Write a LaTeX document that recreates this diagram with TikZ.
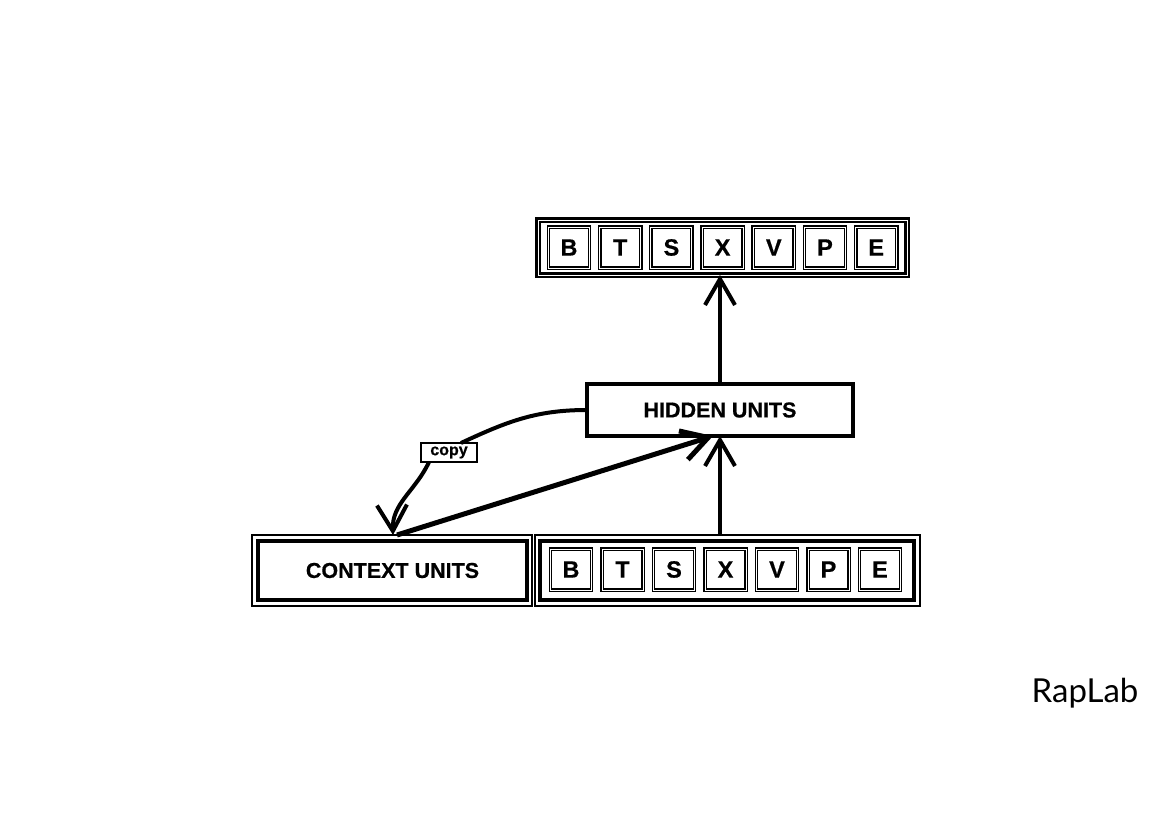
\documentclass[tikz,border=0pt]{standalone}
\usepackage{fontspec}
\setmainfont{Liberation Sans}[BoldFeatures={FakeBold=0.6}]
\newfontfamily\handfont{Lato}
\usetikzlibrary{arrows.meta}
\begin{document}
\begin{tikzpicture}[x=1pt,y=-1pt,
  every node/.style={inner sep=0pt, outer sep=0pt},
  cell/.style={draw, double, line width=1.5pt, double distance=0.9pt, minimum width=41pt, minimum height=41pt, font=\fontsize{23.5}{23.5}\selectfont\bfseries},
  frame/.style={draw, double, line width=2.7pt, double distance=1pt},
  thinframe/.style={draw, line width=2pt},
  boldbox/.style={draw, line width=3.5pt, font=\fontsize{21.5}{21.5}\selectfont\bfseries},
  conn/.style={line width=4pt, -{Straight Barb[length=26pt,width=30pt]}},
  plainline/.style={line width=4pt}
]
\fill[white] (0,0) rectangle (1170,827);
\useasboundingbox (0,0) rectangle (1170,827);

% output layer
\node[frame, minimum width=369pt, minimum height=55pt] (outframe) at (722.5,247.5) {};
\foreach \l [count=\i from 0] in {B,T,S,X,V,P,E} {
  \node[cell] (o\l) at (569+51.2*\i, 247.5) {\l};
}

% hidden layer
\node[boldbox, line width=4pt, minimum width=266pt, minimum height=52pt] (hidden) at (720,410) {HIDDEN UNITS};

% context units
\node[thinframe, minimum width=280pt, minimum height=71pt] (ctxouter) at (392,570.5) {};
\node[boldbox, minimum width=269pt, minimum height=59pt] (ctx) at (392.5,570.5) {CONTEXT UNITS};

% input layer
\node[thinframe, minimum width=385pt, minimum height=71pt] (inouter) at (727.5,570.5) {};
\node[draw, line width=3.5pt, minimum width=374pt, minimum height=59pt] (inframe) at (727,570.5) {};
\foreach \l [count=\i from 0] in {B,T,S,X,V,P,E} {
  \node[cell] (i\l) at (571+51.5*\i, 569.5) {\l};
}

% copy label
\node[draw, line width=2.5pt, minimum width=56pt, minimum height=19pt, font=\fontsize{16}{16}\selectfont\bfseries] (copy) at (449,452.5) {copy};

% connectors
\draw[conn] (hidden.north) -- (hidden.north |- outframe.south);
\draw[conn] (inouter.north -| hidden.south) -- (hidden.south);
\draw[conn, line width=5pt] ([xshift=5pt]ctxouter.north) -- ([xshift=-7pt]hidden.south);
\draw[plainline] (hidden.west) to[out=180, in=25] ([xshift=12pt]copy.north);
\draw[conn] ([xshift=-20pt]copy.south) to[out=245, in=92] ([xshift=1pt]ctxouter.north);

% brand
\node[font=\handfont\fontsize{33}{33}\selectfont] (brand) at (1085,693) {RapLab};
\end{tikzpicture}
\end{document}
